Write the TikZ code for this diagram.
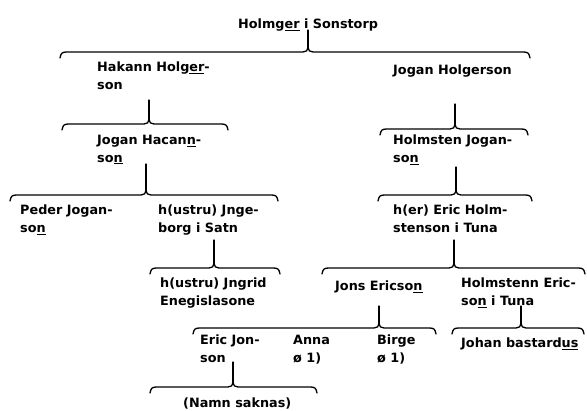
\documentclass[tikz,border=0pt]{standalone}
\usepackage{fontspec}
\setmainfont{DejaVu Sans}
\newfontfamily\pfontfam{DejaVu Sans Bold}
\newcommand\pfont{\pfontfam\fontsize{12.8}{17.5}\selectfont}
\tikzset{
  person/.style={anchor=north west, inner sep=0pt, align=left, font=\pfont,
    yshift=8pt, execute at begin node=\strut},
  bracel/.style={line width=1.3pt, line cap=round, line join=round},
}
\newcommand\fbrace[5]{%
  \draw[bracel] (#1,#4+6) .. controls (#1+1,#4+1) and (#1+2,#4) .. (#1+7,#4)
    -- (#3-5,#4) .. controls (#3-2,#4) and (#3,#4-1.5) .. (#3,#4-4.5)
    .. controls (#3,#4-1.5) and (#3+2,#4) .. (#3+5,#4)
    -- (#2-7,#4) .. controls (#2-2,#4) and (#2-1,#4+1) .. (#2,#4+6);
  \coordinate (top#3) at (#3,#5);
  \coordinate (cusp#3) at (#3,#4-4.5);
  \draw[bracel] (top#3) -- (cusp#3);}
\begin{document}
\begin{tikzpicture}[x=1pt,y=-1pt]
\useasboundingbox (0,0) rectangle (587,411);
% texts
\node[person] (holmger) at (238,24) {Holmg\underline{er} i Sonstorp};
\node[person] (hakann) at (97,70) {Hakann Holg\underline{er}-\\son};
\node[person] (joganh) at (393,70) {Jogan Holgerson};
\node[person] (joganhac) at (97,143) {Jogan Hacan\underline{n}-\\so\underline{n}};
\node[person] (holmsten) at (393,143) {Holmsten Jogan-\\so\underline{n}};
\node[person] (peder) at (20,213) {Peder Jogan-\\so\underline{n}};
\node[person] (ingeborg) at (158,213) {h(ustru) Jnge-\\borg i Satn};
\node[person] (eric) at (393,213) {h(er) Eric Holm-\\stenson i Tuna};
\node[person] (ingrid) at (160,286) {h(ustru) Jngrid\\Enegislasone};
\node[person] (jons) at (335,286) {Jons Ericso\underline{n}};
\node[person] (holmstenn) at (461,286) {Holmstenn Eric-\\so\underline{n} i Tuna};
\node[person] (ericjon) at (200,343) {Eric Jon-\\son};
\node[person] (anna) at (293,343) {Anna\\ø 1)};
\node[person] (birge) at (377,343) {Birge\\ø 1)};
\node[person] (johan) at (461,343) {Johan bastard\underline{us}};
\node[person] (namn) at (183,403) {(Namn saknas)};
% braces
\fbrace{60}{530}{308}{52}{30}
\fbrace{62}{228}{149}{124}{100}
\fbrace{380}{528}{455}{129}{104}
\fbrace{10}{278}{146}{195}{164}
\fbrace{378}{532}{456}{195}{167}
\fbrace{150}{280}{214}{268}{240}
\fbrace{322}{585}{454}{268}{240}
\fbrace{193}{436}{379}{328}{306}
\fbrace{452}{584}{521}{328}{306}
\fbrace{150}{317}{233}{387}{362}
\end{tikzpicture}
\end{document}
